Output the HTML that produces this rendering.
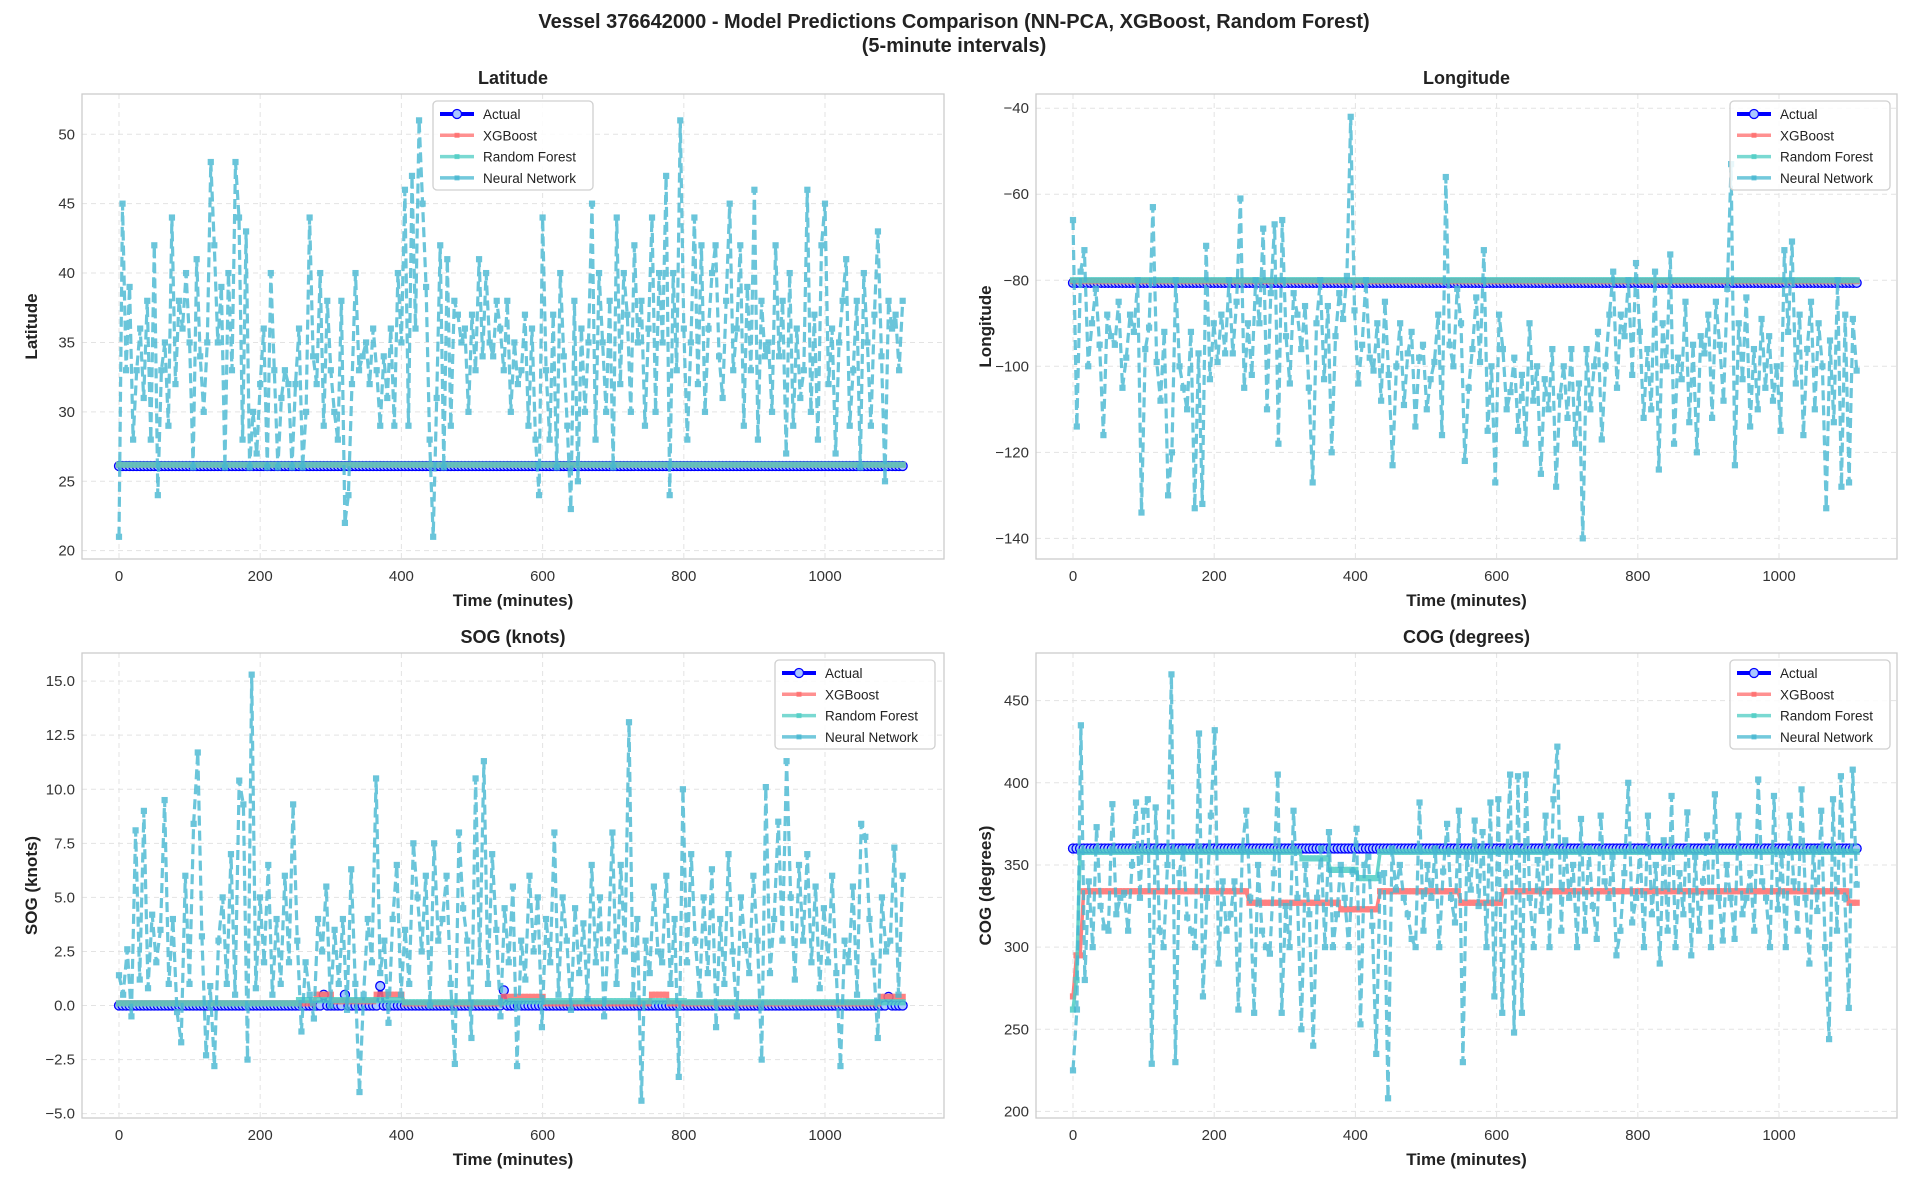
<!DOCTYPE html>
<html><head><meta charset="utf-8">
<style>
html,body{margin:0;padding:0;background:#fff;}
svg{display:block;font-family:"Liberation Sans",Arial,sans-serif;}
</style></head>
<body>
<svg id="fig" width="1909" height="1181" viewBox="0 0 1909 1181" xmlns="http://www.w3.org/2000/svg">
<text x="954" y="28" text-anchor="middle" font-size="20" font-weight="bold" fill="#222">Vessel 376642000 - Model Predictions Comparison (NN-PCA, XGBoost, Random Forest)</text>
<text x="954" y="52" text-anchor="middle" font-size="20" font-weight="bold" fill="#222">(5-minute intervals)</text>
</svg>
<script>
const latNN=[21,45,33,39,28,33,36,31,38,28,42,24,33,35,29,44,32,38,36,40,35,26,41,34,30,35,48,42,35,39,26,40,33,48,44,28,43,26,30,27,32,36,26,40,33,26,31,33,32,26,32,36,26,30,44,34,32,40,29,38,33,30,28,38,22,24,32,40,33,34,35,32,36,33,29,34,31,36,29,40,35,46,29,47,36,51,45,39,28,21,31,42,26,41,29,38,37,35,36,30,37,33,41,34,40,35,34,38,36,33,38,30,35,32,33,37,29,36,28,24,44,33,28,37,26,40,34,29,23,38,25,36,30,35,45,28,40,35,30,38,26,44,32,40,37,30,42,35,38,29,36,44,30,40,35,47,24,40,33,51,36,28,35,44,32,42,30,36,40,42,34,31,38,45,33,36,42,29,39,33,46,28,38,34,35,30,42,34,38,27,40,29,36,31,33,46,30,37,28,42,45,32,36,27,35,38,41,29,33,38,26,40,35,29,37,43,34,25,38,36,37,33,38];
const lonNN=[-66,-114,-78,-73,-100,-90,-82,-95,-116,-88,-93,-95,-85,-105,-98,-88,-92,-80,-134,-96,-91,-63,-99,-108,-92,-130,-120,-80,-100,-105,-110,-92,-133,-97,-132,-72,-103,-90,-99,-88,-97,-80,-97,-85,-61,-105,-90,-102,-80,-90,-68,-110,-83,-67,-118,-66,-93,-104,-83,-88,-96,-86,-105,-127,-90,-80,-103,-86,-120,-93,-83,-89,-79,-42,-87,-104,-95,-80,-98,-101,-90,-108,-85,-102,-123,-100,-90,-109,-97,-92,-114,-98,-95,-110,-103,-99,-88,-116,-56,-95,-100,-82,-90,-122,-105,-96,-84,-99,-73,-115,-100,-127,-88,-96,-110,-106,-98,-115,-102,-118,-90,-108,-100,-125,-103,-110,-96,-128,-107,-100,-112,-96,-118,-104,-140,-96,-110,-100,-92,-117,-100,-88,-78,-105,-88,-93,-80,-102,-76,-92,-112,-96,-110,-78,-124,-90,-100,-74,-118,-98,-103,-85,-113,-95,-120,-93,-97,-88,-112,-85,-95,-108,-82,-53,-123,-90,-103,-84,-114,-96,-110,-89,-105,-93,-108,-100,-115,-73,-92,-71,-104,-88,-116,-96,-85,-110,-90,-100,-133,-94,-113,-80,-128,-88,-127,-89,-101];
const sogNN=[1.4,0.5,2.6,-0.5,8.1,1.2,9,0.8,4.2,2,3.5,9.5,1,4,-0.3,-1.7,6,1,8.4,11.7,3.2,-2.3,0.9,-2.8,3,5,1,7,0.5,10.4,9.3,-2.5,15.3,0.8,5,2,6.5,0.5,4,1,6,2,9.3,3,-1.2,2,0.5,-0.6,4,2.5,5.5,0,3.5,1,4,-0.2,6.3,1,-4,0.5,4,2,10.5,1.5,3,-0.8,4,6.5,0.5,3.5,1,7.5,5,2.5,6,0,7.5,3,4,6,1,-2.7,8,4.5,3,-1.5,10.5,2,11.3,1,7,3.5,-0.5,4.5,2,5.5,-2.8,3,1.2,6,2.5,5,-1,4,2,8,0.5,5,3,-0.2,4.5,1.5,3.8,0.3,6.5,2,5,-0.5,3,8,1,6.5,2.5,13.1,0.5,4,-4.4,3,1.5,5.5,2.5,2,6,1,4,-3.3,10,2,7,3,0.5,5,1.5,6.3,-1,4,1,7,2.5,-0.5,5,2.8,1.5,6,3,-2.5,10.1,1.5,4,8.5,3,11.3,5,1.2,6.5,3,7,2,5.5,0.8,4.5,2,6,1.5,-2.8,3,2,5.5,0.5,8.4,7.8,4,2,-1.5,5,2.5,3,7.3,0.5,6];
const cogNN=[225,262,435,280,340,300,373,325,312,310,387,320,330,333,310,350,388,330,383,390,229,385,310,300,350,466,230,345,360,318,310,300,430,270,330,380,432,290,340,310,320,340,262,360,383,330,260,350,310,300,296,345,405,260,325,300,383,330,250,350,320,240,330,360,300,370,300,320,350,330,300,346,372,253,350,355,313,235,344,345,208,360,335,350,330,320,305,300,388,310,350,330,360,300,346,375,330,315,383,230,355,335,377,325,370,300,388,270,390,260,345,405,248,404,260,405,330,300,353,322,380,300,390,422,310,365,330,350,300,378,310,360,325,305,380,340,330,355,295,310,345,400,315,330,360,300,380,320,350,290,365,310,392,300,345,320,382,295,355,310,340,368,300,393,330,304,350,330,305,380,320,330,345,310,402,340,330,300,392,323,356,300,380,340,310,396,330,290,360,322,383,300,244,390,310,404,330,263,408,338];
const nPoints=223;
const lastMinute=1110;
const xTicks=[0,200,400,600,800,1000];
const latTicks=[20,25,30,35,40,45,50];
const lonTicks=[-140,-120,-100,-80,-60,-40];
const sogTicks=[-5,-2.5,0,2.5,5,7.5,10,12.5,15];
const cogTicks=[200,250,300,350,400,450];
const latActual=26.1, latXgb=26.2, latRf=26.2;
const lonActual=-80.6, lonXgb=-80.2, lonRf=-80.0;
const cogActual=360;
const sogActualBumps={58:0.5,64:0.5,74:0.9,109:0.7,218:0.4};
const sogXgbEnds=[55,60,72,80,108,120,150,155,215,222];
const sogXgbLevels=[0.1,0.5,0.2,0.5,0.1,0.4,0.1,0.5,0.1,0.4];
const sogRfEnds=[50,80,110,160,222];
const sogRfLevels=[0.1,0.25,0.15,0.2,0.15];
const cogXgbEnds=[0,2,49,75,86,109,121,219,222];
const cogXgbLevels=[270,295,334,327,323,334,327,334,327];
const cogRfEnds=[0,1,64,72,80,86,222];
const cogRfLevels=[262,280,358,354,347,342,358];

const NS="http://www.w3.org/2000/svg";
const svg=document.getElementById('fig');
function mk(tag,attrs,parent){const e=document.createElementNS(NS,tag);for(const k in attrs)e.setAttribute(k,attrs[k]);(parent||svg).appendChild(e);return e;}
function stepVal(i,ends,levels){for(let k=0;k<ends.length;k++){if(i<=ends[k])return levels[k];}return levels[levels.length-1];}
const fmtMinus=v=>String(v).replace('-','\u2212');

const panels=[
 {key:'latitude',title:'Latitude',ylabel:'Latitude',x0:82,x1:944,y0:94,y1:559,xz:119,ymin:19.4,ymax:52.9,ticks:latTicks,fmt:v=>String(v),
  legend:[433,101],nn:latNN,act:i=>latActual,xgb:i=>latXgb,rf:i=>latRf},
 {key:'longitude',title:'Longitude',ylabel:'Longitude',x0:1036,x1:1897,y0:94,y1:559,xz:1073,ymin:-144.8,ymax:-36.7,ticks:lonTicks,fmt:v=>fmtMinus(v),
  legend:[1730,101],nn:lonNN,act:i=>lonActual,xgb:i=>lonXgb,rf:i=>lonRf},
 {key:'sog',title:'SOG (knots)',ylabel:'SOG (knots)',x0:82,x1:944,y0:653,y1:1118,xz:119,ymin:-5.2,ymax:16.3,ticks:sogTicks,fmt:v=>fmtMinus(v.toFixed(1)),
  legend:[775,660],nn:sogNN,act:i=>(sogActualBumps[i]||0),xgb:i=>stepVal(i,sogXgbEnds,sogXgbLevels),rf:i=>stepVal(i,sogRfEnds,sogRfLevels)},
 {key:'cog',title:'COG (degrees)',ylabel:'COG (degrees)',x0:1036,x1:1897,y0:653,y1:1118,xz:1073,ymin:196,ymax:479,ticks:cogTicks,fmt:v=>String(v),
  legend:[1730,660],nn:cogNN,act:i=>cogActual,xgb:i=>stepVal(i,cogXgbEnds,cogXgbLevels),rf:i=>stepVal(i,cogRfEnds,cogRfLevels)}
];
const pxPerMin=0.706;

panels.forEach(p=>{
 const X=t=>p.xz+t*pxPerMin;
 const Y=v=>p.y1-(v-p.ymin)/(p.ymax-p.ymin)*(p.y1-p.y0);
 const g=mk('g',{});
 
 
 const bg=mk('rect',{x:p.x0,y:p.y0,width:p.x1-p.x0,height:p.y1-p.y0,fill:'#fff'},g);
 
 
 xTicks.forEach(t=>{
  const gl=mk('line',{x1:X(t),x2:X(t),y1:p.y0,y2:p.y1,stroke:'#e3e3e3','stroke-width':1,'stroke-dasharray':'5,4'},g);
  
  
  const tl=mk('text',{x:X(t),y:p.y1+22,'text-anchor':'middle','font-size':15,fill:'#333'},g);
  tl.textContent=t;
  
  
 });
 p.ticks.forEach(v=>{
  const gl=mk('line',{x1:p.x0,x2:p.x1,y1:Y(v),y2:Y(v),stroke:'#e3e3e3','stroke-width':1,'stroke-dasharray':'5,4'},g);
  
  
  const tl=mk('text',{x:p.x0-7,y:Y(v)+5,'text-anchor':'end','font-size':15,fill:'#333'},g);
  tl.textContent=p.fmt(v);
  
  
 });
 const series=[
  {name:'actual',vals:[...Array(nPoints).keys()].map(p.act),color:'#0000ff',op:1,w:3,marker:'circle'},
  {name:'xgboost',vals:[...Array(nPoints).keys()].map(p.xgb),color:'#ff6b6b',op:0.85,w:3.5,marker:'square'},
  {name:'random-forest',vals:[...Array(nPoints).keys()].map(p.rf),color:'#4ecdc4',op:0.85,w:3.5,marker:'square'},
  {name:'neural-network',vals:p.nn,color:'#45b7d1',op:0.8,w:3.2,marker:'square',dash:'10,5'}
 ];
 series.forEach(s=>{
  const n=s.vals.length;
  const T=i=>i*lastMinute/(n-1);
  const sg=mk('g',{opacity:s.op},g);
  
  
  const pts=s.vals.map((v,i)=>X(T(i)).toFixed(1)+','+Y(v).toFixed(1)).join(' ');
  const pl=mk('polyline',{points:pts,fill:'none',stroke:s.color,'stroke-width':s.w,'stroke-linejoin':'round'},sg);
  if(s.dash)pl.setAttribute('stroke-dasharray',s.dash);
  
  
  s.vals.forEach((v,i)=>{
   const cx=X(T(i)),cy=Y(v);
   let m;
   if(s.marker==='circle'){m=mk('circle',{cx:cx,cy:cy,r:4.5,fill:'#aac8ff',stroke:s.color,'stroke-width':1.3},sg);}
   else{m=mk('rect',{x:cx-2.6,y:cy-2.6,width:5.2,height:5.2,fill:s.color,stroke:s.color,'stroke-width':1},sg);}
   
   
  });
 });
 const fr=mk('rect',{x:p.x0,y:p.y0,width:p.x1-p.x0,height:p.y1-p.y0,fill:'none',stroke:'#cccccc','stroke-width':1.3},g);
 
 
 const tt=mk('text',{x:(p.x0+p.x1)/2,y:p.y0-10,'text-anchor':'middle','font-size':18,'font-weight':'bold',fill:'#222'},g);
 tt.textContent=p.title;
 
 
 const xl=mk('text',{x:(p.x0+p.x1)/2,y:p.y1+47,'text-anchor':'middle','font-size':17,'font-weight':'bold',fill:'#222'},g);
 xl.textContent='Time (minutes)';
 
 
 const yc=(p.y0+p.y1)/2, yx=p.x0-45;
 const yl=mk('text',{x:yx,y:yc,'text-anchor':'middle','font-size':17,'font-weight':'bold',fill:'#222',transform:'rotate(-90 '+yx+' '+yc+')'},g);
 yl.textContent=p.ylabel;
 
 
 const [lx,ly]=p.legend;
 const lg=mk('g',{},g);
 
 
 mk('rect',{x:lx,y:ly,width:160,height:89,rx:4,fill:'#fff','fill-opacity':0.85,stroke:'#d0d0d0','stroke-width':1.3},lg);
 const labels=['Actual','XGBoost','Random Forest','Neural Network'];
 series.forEach((s,k)=>{
  const ry=ly+13+k*21.3;
  const e=mk('g',{},lg);
  
  
  mk('line',{x1:lx+7,x2:lx+41,y1:ry,y2:ry,stroke:s.color,'stroke-width':s.name==='actual'?4:3.5,opacity:s.name==='actual'?1:0.75},e);
  if(s.name==='actual')mk('circle',{cx:lx+24,cy:ry,r:4.5,fill:'#aac8ff',stroke:'#0000ff','stroke-width':1.3},e);
  else mk('rect',{x:lx+21.5,y:ry-2.5,width:5,height:5,fill:s.color,opacity:0.8},e);
  const t=mk('text',{x:lx+50,y:ry+5,'font-size':13.5,fill:'#222'},e);
  t.textContent=labels[k];
 });
});
</script>
</body></html>
